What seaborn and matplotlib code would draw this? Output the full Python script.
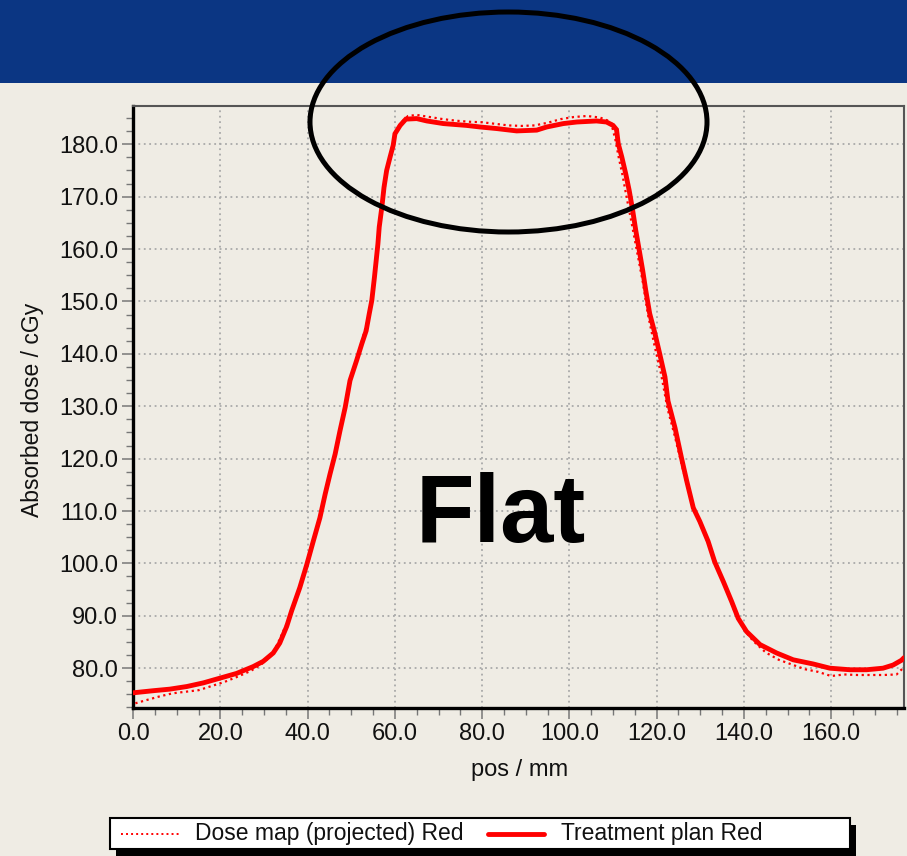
import matplotlib
matplotlib.use("Agg")
import matplotlib.pyplot as plt
import matplotlib.patches as mpatches
from matplotlib.lines import Line2D
from matplotlib import font_manager
from matplotlib.ticker import MultipleLocator, FormatStrFormatter
import pandas as pd
import seaborn as sns

# Treatment plan profile (solid)
tp_pos = [0, 4.6, 8.4, 12.3, 16.1, 19.9, 23.7, 27.5, 29.8, 32.1, 33.6, 35.2, 36.3, 38.2,
          39.8, 41.3, 42.8, 44.0, 45.1, 46.3, 47.4, 48.6, 49.7, 51.2, 52.4, 53.4, 54.1,
          54.7, 55.3, 55.7, 56.1, 56.4, 57.0, 57.5, 58.1, 58.9, 59.6, 60.0, 61.2, 62.5,
          65.0, 67.3, 71.1, 76.4, 79.5, 83.3, 87.9, 92.5, 94.8, 98.6, 101.7, 106.2, 108.5,
          110.0, 110.8, 111.2, 112.0, 112.9, 113.7, 114.5, 115.2, 116.0, 116.8, 117.5,
          118.4, 119.6, 120.7, 121.9, 122.6, 124.2, 125.7, 126.9, 128.4, 129.9, 131.8,
          133.3, 135.3, 137.2, 138.7, 140.6, 143.7, 147.5, 151.3, 155.9, 159.7, 164.3,
          168.1, 171.9, 174.2, 176.1, 176.7]
tp_dose = [75.3, 75.7, 76.0, 76.5, 77.2, 78.1, 79.0, 80.3, 81.3, 82.9, 84.8, 88.0, 90.9,
           95.4, 99.8, 104.3, 108.7, 113.2, 117.0, 120.9, 125.3, 129.8, 134.9, 138.7,
           141.9, 144.4, 147.6, 150.2, 154.6, 157.8, 161.0, 164.2, 168.0, 171.8, 175.0,
           177.6, 179.8, 182.0, 183.6, 184.8, 184.9, 184.45, 183.95, 183.6, 183.3, 183.0,
           182.55, 182.7, 183.3, 183.95, 184.25, 184.45, 184.25, 183.6, 182.8, 180.1,
           177.6, 174.4, 171.2, 167.4, 163.6, 159.8, 155.9, 152.1, 147.7, 143.9, 140.0,
           135.6, 131.0, 125.9, 120.1, 115.7, 110.6, 108.0, 104.2, 100.3, 96.5, 92.7,
           89.5, 87.0, 84.5, 82.9, 81.6, 80.8, 80.0, 79.7, 79.7, 80.0, 80.6, 81.5, 82.0]

# Projected dose map profile (dotted)
dm_pos = [0.5, 3, 6, 9, 12, 15, 18, 21, 24, 27, 29.8, 32, 34, 36, 38, 40, 42, 44, 46, 48,
          50, 52, 54, 55.5, 57, 58.5, 60, 61.5, 63, 65, 68, 71, 74, 77, 80, 83, 86, 89,
          92, 95, 98, 101, 104, 107, 109.5, 110.5, 111.3, 112.2, 113.2, 114.3, 115.5,
          116.8, 118, 119.5, 121, 122.5, 124, 126, 128, 130, 132, 134, 136, 138, 140, 142,
          145, 148, 151, 154, 157, 160, 163, 166, 169, 172, 175, 176.7]
dm_dose = [73.3, 73.9, 74.6, 75.2, 75.5, 75.8, 76.6, 77.4, 78.4, 79.5, 81.0, 82.7, 86.3,
           90.1, 95.0, 99.8, 106.3, 112.8, 119.8, 127.6, 135.8, 141.2, 147.2, 156.0, 168.0,
           176.3, 182.0, 184.2, 185.4, 185.6, 185.2, 184.8, 184.5, 184.3, 184.2, 183.9,
           183.6, 183.5, 183.6, 184.1, 184.8, 185.2, 185.4, 185.1, 184.3, 181.0, 177.5,
           174.0, 169.5, 164.8, 159.5, 153.8, 147.5, 141.6, 136.2, 129.5, 124.8, 118.0,
           111.8, 107.5, 103.4, 99.3, 95.0, 90.5, 87.4, 85.3, 83.0, 81.6, 80.7, 79.8, 79.3,
           78.5, 78.8, 78.7, 78.7, 78.7, 78.8, 80.2]

series_names = ["Dose map (projected) Red", "Treatment plan Red"]
x_label = "pos / mm"
y_label = "Absorbed dose / cGy"
annotation = "Flat"

BG = "#EFECE4"
BANNER = "#0B3683"
RED = "#FF0000"


def pick_font(names):
    for n in names:
        try:
            font_manager.findfont(font_manager.FontProperties(family=n),
                                  fallback_to_default=False)
            return n
        except Exception:
            continue
    return "DejaVu Sans"


ui_font = pick_font(["Liberation Sans Narrow", "Liberation Sans", "DejaVu Sans"])
bold_font = pick_font(["Liberation Sans", "Arial", "DejaVu Sans"])

sns.set_theme(style="ticks")
plt.rcParams["font.family"] = [ui_font, "DejaVu Sans"]

W, H = 907, 856
fig = plt.figure(figsize=(W / 100, H / 100), dpi=100, facecolor=BG)


def fx(px):
    return px / W


def fy(py):
    return 1 - py / H


# header band
fig.add_artist(mpatches.Rectangle((0, fy(82.5)), 1, 82.5 / H, transform=fig.transFigure,
                                  facecolor=BANNER, edgecolor="none", zorder=0))

ax_left, ax_right, ax_top, ax_bottom = 133.2, 904, 105.5, 708
ax = fig.add_axes([fx(ax_left), fy(ax_bottom), (ax_right - ax_left) / W,
                   (ax_bottom - ax_top) / H])
ax.set_facecolor(BG)

tp = pd.DataFrame({"pos": tp_pos, "dose": tp_dose})
dm = pd.DataFrame({"pos": dm_pos, "dose": dm_dose})

sns.lineplot(data=dm, x="pos", y="dose", ax=ax, color=RED, lw=1.6,
             linestyle=(0, (1, 1.6)), sort=False, estimator=None, zorder=3)
sns.lineplot(data=tp, x="pos", y="dose", ax=ax, color=RED, lw=3.5,
             sort=False, estimator=None, zorder=4, solid_joinstyle="miter")

ax.set_xlim(0, 176.7)
ax.set_ylim(72.4, 187.4)
ax.xaxis.set_major_locator(MultipleLocator(20))
ax.xaxis.set_minor_locator(MultipleLocator(5))
ax.yaxis.set_major_locator(MultipleLocator(10))
ax.yaxis.set_minor_locator(MultipleLocator(2.5))
ax.xaxis.set_major_formatter(FormatStrFormatter("%.1f"))
ax.yaxis.set_major_formatter(FormatStrFormatter("%.1f"))

ax.grid(True, which="major", color="#A9A9A9", lw=1.3, linestyle=(0, (1, 2)))
ax.tick_params(which="major", length=8, width=1.1, color="#777777", labelsize=17,
               labelcolor="#111111", pad=3)
ax.tick_params(which="minor", length=5, width=1.0, color="#777777")

for side in ("left", "bottom"):
    ax.spines[side].set_color("black")
    ax.spines[side].set_linewidth(2.4)
for side in ("top", "right"):
    ax.spines[side].set_visible(True)
    ax.spines[side].set_color("#555555")
    ax.spines[side].set_linewidth(1.5)

ax.set_xlabel("")
ax.set_ylabel("")
fig.text(fx(520), fy(770), x_label, ha="center", va="center", fontsize=17,
         color="#111111")
fig.text(fx(33), fy(410), y_label, ha="center", va="center", rotation=90,
         fontsize=16.5, color="#111111")

# annotation word
fig.text(fx(501), fy(542), annotation, ha="center", va="baseline", fontsize=69,
         fontweight="bold", family=[bold_font, "DejaVu Sans"], color="black", zorder=10)

# highlight ellipse over the plateau
fig.add_artist(mpatches.Ellipse((fx(508.5), fy(122)), 2 * 198.5 / W, 2 * 110 / H,
                                transform=fig.transFigure, fill=False,
                                edgecolor="black", lw=3.6, zorder=20))

# legend box with drop shadow
lx0, lx1, ly0, ly1 = 110, 850, 818, 849
fig.add_artist(mpatches.Rectangle((fx(lx0 + 6), fy(ly1 + 7)), (lx1 - lx0) / W,
                                  (ly1 - ly0) / H, transform=fig.transFigure,
                                  facecolor="black", edgecolor="none", zorder=5))
fig.add_artist(mpatches.Rectangle((fx(lx0), fy(ly1)), (lx1 - lx0) / W,
                                  (ly1 - ly0) / H, transform=fig.transFigure,
                                  facecolor="white", edgecolor="black", lw=1.5, zorder=6))
ly = fy(833.5)
fig.add_artist(Line2D([fx(121), fx(179)], [ly, ly], transform=fig.transFigure,
                      color=RED, lw=1.4, linestyle=(0, (1, 1.6)), zorder=7))
fig.text(fx(195), ly, series_names[0], ha="left", va="center", fontsize=16.5,
         color="#111111", zorder=7)
fig.add_artist(Line2D([fx(488), fx(544)], [ly, ly], transform=fig.transFigure,
                      color=RED, lw=3.5, zorder=7))
fig.text(fx(561), ly, series_names[1], ha="left", va="center", fontsize=16.5,
         color="#111111", zorder=7)

fig.savefig("out.png", dpi=100, facecolor=BG)
